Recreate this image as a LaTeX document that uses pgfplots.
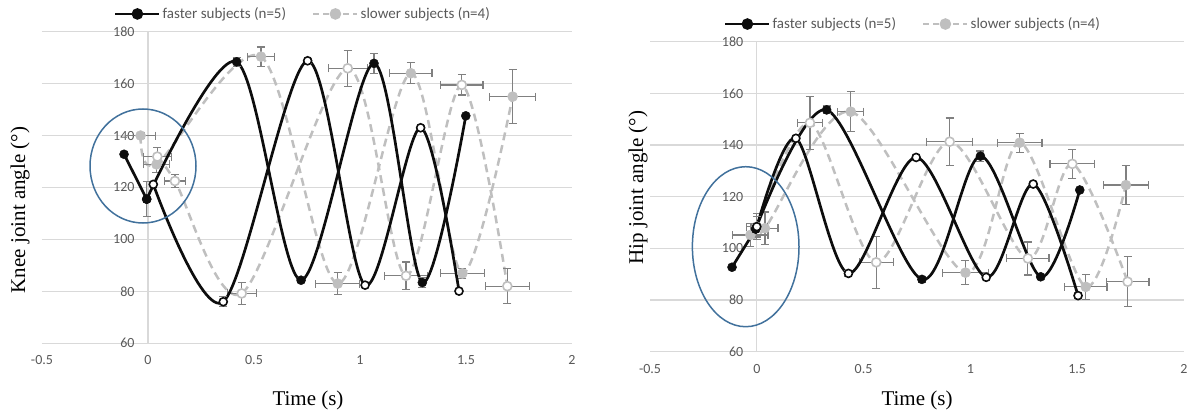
\documentclass[border=0pt]{standalone}
\usepackage{fontspec}
\setmainfont{Liberation Serif}
\newfontfamily\calibri{Carlito}
\usepackage{pgfplots}
\pgfplotsset{compat=1.18}
\usepackage{pgfplotstable}

\definecolor{blk}{HTML}{0D0D0D}
\definecolor{gser}{HTML}{BFBFBF}
\definecolor{errc}{HTML}{808080}
\definecolor{gridc}{HTML}{D9D9D9}
\definecolor{tickc}{HTML}{595959}
\definecolor{ellc}{HTML}{41719C}

% ---------- Knee ----------
\pgfplotstableread{
t v ey
-0.113 132.8 0
-0.006 115.5 6.7
}\kneeBFa
\pgfplotstableread{
t v ey
-0.006 115.5 0
0.418 168.4 1.8
0.722 84.3 1.0
1.066 167.8 3.8
1.294 83.4 1.8
1.499 147.6 0
}\kneeBF
\pgfplotstableread{
t v ey
0.025 121.2 0
0.355 76.0 1.9
0.753 168.8 1.0
1.024 82.4 1.0
1.286 143.0 1.0
1.467 80.1 0
}\kneeBO
\pgfplotstableread{
t v ex ey
-0.035 140.0 0.070 1.0
0.040 128.9 0.063 3.0
0.533 170.4 0.063 3.7
0.895 83.0 0.104 4.3
1.240 164.0 0.100 4.0
1.483 86.9 0.103 1.9
1.720 155.0 0.108 10.5
}\kneeGF
\pgfplotstableread{
t v ex ey
0.044 131.9 0.067 3.6
0.127 122.5 0.050 2.6
0.442 79.2 0.068 4.3
0.942 165.9 0.092 6.9
1.217 86.0 0.100 5.3
1.480 159.5 0.100 3.9
1.695 82.0 0.104 6.7
}\kneeGO
% ---------- Hip ----------
\pgfplotstableread{
t v ey
-0.116 92.7 0
-0.005 107.5 0
}\hipBFa
\pgfplotstableread{
t v ey
-0.005 107.5 0
0.327 153.6 1.5
0.773 88.0 1.0
1.047 135.7 2.0
1.329 89.0 1.0
1.512 122.6 0
}\hipBF
\pgfplotstableread{
t v ey
0.000 108.4 4.0
0.183 142.6 1.0
0.429 90.3 1.0
0.746 135.2 1.0
1.074 88.8 1.0
1.294 124.9 1.0
1.504 81.7 1.0
}\hipBO
\pgfplotstableread{
t v ex ey
-0.030 105.2 0.082 4.4
0.038 107.8 0.061 6.3
0.440 152.9 0.061 7.7
0.977 90.6 0.107 4.6
1.231 140.9 0.104 3.7
1.540 85.1 0.099 4.9
1.728 124.5 0.106 7.5
}\hipGF
\pgfplotstableread{
t v ex ey
0.000 108.4 0.050 5.0
0.249 148.6 0.057 10.2
0.559 94.6 0.080 10.0
0.903 141.3 0.108 9.2
1.269 96.1 0.099 6.4
1.477 132.7 0.104 5.7
1.736 87.1 0.100 9.7
}\hipGO

\pgfplotsset{
  excelaxis/.style={
    scale only axis, anchor=south west,
    xmin=-0.5, xmax=2, ymin=60, ymax=180,
    axis x line=bottom, axis y line=middle,
    hide obscured x ticks=false, hide obscured y ticks=false,
    axis line style={draw=gridc, line width=1.3pt, -},
    ymajorgrids, grid style={draw=gridc, line width=1.3pt},
    xtick={-0.5,0,0.5,1,1.5,2}, xticklabels={-0.5,0,0.5,1,1.5,2},
    ytick={60,80,100,120,140,160,180}, yticklabels={60,80,100,120,140,160,180},
    major tick length=0pt,
    tick label style={font=\calibri\fontsize{14}{14}\selectfont, text=tickc},
    yticklabel style={xshift=-10pt},
    xticklabel style={yshift=-9pt},
    legend columns=2,
    legend style={draw=none, fill=none, font=\calibri\fontsize{15}{15}\selectfont,
      text=tickc, anchor=center,
      /tikz/every even column/.append style={column sep=24pt}},
    legend image code/.code={
      \draw[##1, mark=none] (0pt,0pt) -- (44pt,0pt);
      \draw[##1] plot[only marks] coordinates {(22pt,0pt)};
    },
  },
  errsty/.style={
    error bars/error bar style={solid, draw=errc, line width=1.2pt},
    error bars/error mark=-,
    error bars/error mark options={rotate=90, solid, draw=errc, line width=1.2pt, mark size=4pt}},
  bfill/.style={blk, line width=2.7pt, smooth, mark=*, mark size=4.5pt,
    mark options={solid, fill=blk, draw=blk, line width=0.5pt},
    error bars/y dir=both, error bars/y explicit, errsty},
  bopen/.style={blk, line width=2.7pt, smooth, mark=*, mark size=4pt,
    mark options={solid, fill=white, draw=blk, line width=1.6pt},
    error bars/y dir=both, error bars/y explicit, errsty},
  gfill/.style={gser, line width=2.5pt, smooth, dash pattern=on 8pt off 5pt,
    mark=*, mark size=5pt,
    mark options={solid, fill=gser, draw=gser, line width=0.5pt},
    error bars/x dir=both, error bars/x explicit,
    error bars/y dir=both, error bars/y explicit, errsty},
  gopen/.style={gser, line width=2.5pt, smooth, dash pattern=on 8pt off 5pt,
    mark=*, mark size=4.5pt,
    mark options={solid, fill=white, draw=gser, line width=1.6pt},
    error bars/x dir=both, error bars/x explicit,
    error bars/y dir=both, error bars/y explicit, errsty},
}

\begin{document}
\begin{tikzpicture}
\useasboundingbox (0pt,0pt) rectangle (1188pt,416pt);

% ================= Knee =================
\begin{axis}[excelaxis, at={(42pt,72.7pt)}, width=530pt, height=311.6pt,
  legend style={at={(0.4925,1.057)}}]
\addlegendimage{blk, line width=2.5pt, mark=*, mark size=4.5pt, mark options={solid, fill=blk, draw=blk}}
\addlegendentry{faster subjects (n=5)}
\addlegendimage{gser, line width=2.5pt, dash pattern=on 6pt off 4pt, mark=*, mark size=4.5pt, mark options={solid, fill=gser, draw=gser}}
\addlegendentry{slower subjects (n=4)}
\addplot[gfill, forget plot] table[x=t, y=v, x error=ex, y error=ey] {\kneeGF};
\addplot[gopen, forget plot] table[x=t, y=v, x error=ex, y error=ey] {\kneeGO};
\addplot[bfill, forget plot] table[x=t, y=v, y error=ey] {\kneeBF};
\addplot[bfill, sharp plot, forget plot] table[x=t, y=v, y error=ey] {\kneeBFa};
\addplot[bopen, forget plot] table[x=t, y=v, y error=ey] {\kneeBO};
\end{axis}

% ================= Hip =================
\begin{axis}[excelaxis, at={(650pt,64.3pt)}, width=534pt, height=310pt,
  legend style={at={(0.4925,1.057)}}]
\addlegendimage{blk, line width=2.5pt, mark=*, mark size=4.5pt, mark options={solid, fill=blk, draw=blk}}
\addlegendentry{faster subjects (n=5)}
\addlegendimage{gser, line width=2.5pt, dash pattern=on 6pt off 4pt, mark=*, mark size=4.5pt, mark options={solid, fill=gser, draw=gser}}
\addlegendentry{slower subjects (n=4)}
\addplot[gfill, forget plot] table[x=t, y=v, x error=ex, y error=ey] {\hipGF};
\addplot[gopen, forget plot] table[x=t, y=v, x error=ex, y error=ey] {\hipGO};
\addplot[bfill, forget plot] table[x=t, y=v, y error=ey] {\hipBF};
\addplot[bfill, sharp plot, forget plot] table[x=t, y=v, y error=ey] {\hipBFa};
\addplot[bopen, forget plot] table[x=t, y=v, y error=ey] {\hipBO};
\end{axis}

% annotation ellipses
\draw[ellc, line width=1.5pt] (143pt,250pt) ellipse [x radius=53pt, y radius=57pt];
\draw[ellc, line width=1.5pt] (745.7pt,169.3pt) ellipse [x radius=53.3pt, y radius=80pt];

% axis titles
\node[font=\fontsize{21}{21}\selectfont] at (308pt,16pt) {Time (s)};
\node[font=\fontsize{21}{21}\selectfont, rotate=90] at (20pt,206pt) {Knee joint angle (°)};
\node[font=\fontsize{21}{21}\selectfont] at (917pt,16pt) {Time (s)};
\node[font=\fontsize{21}{21}\selectfont, rotate=90] at (638pt,228.5pt) {Hip joint angle (°)};
\end{tikzpicture}
\end{document}
